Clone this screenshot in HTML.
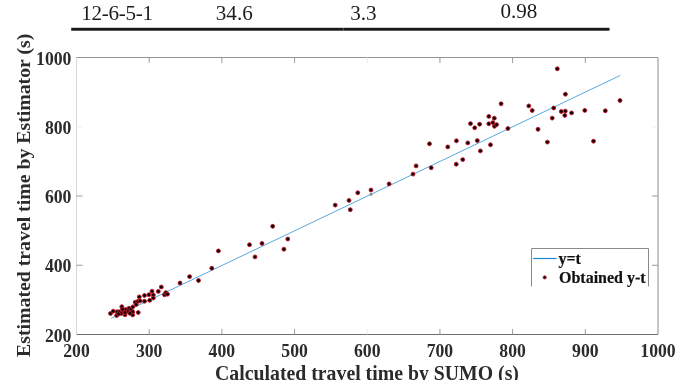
<!DOCTYPE html>
<html><head><meta charset="utf-8"><style>
html,body{margin:0;padding:0;background:#fff;width:685px;height:380px;overflow:hidden}
svg{display:block;will-change:transform}
</style></head><body>
<svg width="685" height="380" viewBox="0 0 685 380">
<rect width="685" height="380" fill="#fff"/>
<!-- table fragment -->
<g font-family="Liberation Serif" font-size="21.1" fill="#1e1b1c">
<text x="81.3" y="20.3" letter-spacing="-0.28">12-6-5-1</text>
<text x="215.8" y="20.3">34.6</text>
<text x="350.2" y="20.3">3.3</text>
<text x="500.4" y="18.1">0.98</text>
</g>
<rect x="71.2" y="27.8" width="538.3" height="2.9" fill="#1b1718"/>
<rect x="343.2" y="27.8" width="0.7" height="2.9" fill="#fff" opacity="0.35"/>
<!-- axes box -->
<g stroke="#8a8a8a" stroke-width="1" fill="none">
<line x1="76.5" y1="57.5" x2="658.0" y2="57.5" stroke="#959595"/>
<line x1="76.5" y1="334.5" x2="658.0" y2="334.5" stroke="#6e6e6e"/>
<line x1="76.5" y1="57.5" x2="76.5" y2="334.5" stroke="#d6d6d6"/>
<line x1="658.0" y1="57.5" x2="658.0" y2="334.5" stroke="#8a8a8a"/>
<line x1="149.19" y1="334.5" x2="149.19" y2="329.0" stroke="#9a9a9a"/>
<line x1="149.19" y1="57.5" x2="149.19" y2="63.0" stroke="#9a9a9a"/>
<line x1="221.88" y1="334.5" x2="221.88" y2="329.0" stroke="#9a9a9a"/>
<line x1="221.88" y1="57.5" x2="221.88" y2="63.0" stroke="#9a9a9a"/>
<line x1="294.56" y1="334.5" x2="294.56" y2="329.0" stroke="#9a9a9a"/>
<line x1="294.56" y1="57.5" x2="294.56" y2="63.0" stroke="#9a9a9a"/>
<line x1="367.25" y1="334.5" x2="367.25" y2="329.0" stroke="#ececec"/>
<line x1="367.25" y1="57.5" x2="367.25" y2="63.0" stroke="#ececec"/>
<line x1="439.94" y1="334.5" x2="439.94" y2="329.0" stroke="#9a9a9a"/>
<line x1="439.94" y1="57.5" x2="439.94" y2="63.0" stroke="#9a9a9a"/>
<line x1="512.62" y1="334.5" x2="512.62" y2="329.0" stroke="#9a9a9a"/>
<line x1="512.62" y1="57.5" x2="512.62" y2="63.0" stroke="#9a9a9a"/>
<line x1="585.31" y1="334.5" x2="585.31" y2="329.0" stroke="#9a9a9a"/>
<line x1="585.31" y1="57.5" x2="585.31" y2="63.0" stroke="#9a9a9a"/>
<line x1="76.5" y1="265.25" x2="82.5" y2="265.25" stroke="#9a9a9a"/>
<line x1="658.0" y1="265.25" x2="652.0" y2="265.25" stroke="#9a9a9a"/>
<line x1="76.5" y1="196.00" x2="82.5" y2="196.00" stroke="#9a9a9a"/>
<line x1="658.0" y1="196.00" x2="652.0" y2="196.00" stroke="#9a9a9a"/>
<line x1="76.5" y1="126.75" x2="82.5" y2="126.75" stroke="#ececec"/>
<line x1="658.0" y1="126.75" x2="652.0" y2="126.75" stroke="#ececec"/>
</g>
<!-- y=t line -->
<line x1="111.2" y1="318.3" x2="620.3" y2="75.4" stroke="#58a8e0" stroke-width="1"/>
<!-- markers -->
<g fill="#080000" stroke="#c41a2c" stroke-width="0.95">
<circle cx="110.5" cy="313.5" r="1.95"/>
<circle cx="113.2" cy="311.2" r="1.95"/>
<circle cx="116.6" cy="315.5" r="1.95"/>
<circle cx="117.1" cy="311.7" r="1.95"/>
<circle cx="119.3" cy="311.8" r="1.95"/>
<circle cx="121.8" cy="306.7" r="1.95"/>
<circle cx="123.2" cy="311.4" r="1.95"/>
<circle cx="125.0" cy="314.8" r="1.95"/>
<circle cx="125.6" cy="309.5" r="1.95"/>
<circle cx="127.7" cy="311.3" r="1.95"/>
<circle cx="129.0" cy="308.3" r="1.95"/>
<circle cx="131.0" cy="309.4" r="1.95"/>
<circle cx="132.7" cy="314.9" r="1.95"/>
<circle cx="132.7" cy="311.8" r="1.95"/>
<circle cx="132.8" cy="306.9" r="1.95"/>
<circle cx="135.2" cy="302.2" r="1.95"/>
<circle cx="136.2" cy="304.5" r="1.95"/>
<circle cx="138.2" cy="312.5" r="1.95"/>
<circle cx="137.8" cy="301.4" r="1.95"/>
<circle cx="139.3" cy="296.9" r="1.95"/>
<circle cx="140.1" cy="300.9" r="1.95"/>
<circle cx="121.2" cy="313.6" r="1.95"/>
<circle cx="125.0" cy="312.5" r="1.95"/>
<circle cx="129.9" cy="313.3" r="1.95"/>
<circle cx="118.5" cy="314.0" r="1.95"/>
<circle cx="122.5" cy="309.2" r="1.95"/>
<circle cx="144.5" cy="295.5" r="1.95"/>
<circle cx="144.5" cy="301.2" r="1.95"/>
<circle cx="148.9" cy="294.7" r="1.95"/>
<circle cx="149.7" cy="300.3" r="1.95"/>
<circle cx="152.0" cy="291.2" r="1.95"/>
<circle cx="153.3" cy="295.0" r="1.95"/>
<circle cx="153.3" cy="298.0" r="1.95"/>
<circle cx="158.3" cy="291.4" r="1.95"/>
<circle cx="161.3" cy="287.0" r="1.95"/>
<circle cx="164.5" cy="294.8" r="1.95"/>
<circle cx="165.8" cy="292.6" r="1.95"/>
<circle cx="167.5" cy="294.2" r="1.95"/>
<circle cx="180.0" cy="283.0" r="1.95"/>
<circle cx="189.6" cy="276.6" r="1.95"/>
<circle cx="198.5" cy="280.5" r="1.95"/>
<circle cx="211.8" cy="268.2" r="1.95"/>
<circle cx="218.4" cy="250.9" r="1.95"/>
<circle cx="249.5" cy="244.7" r="1.95"/>
<circle cx="255.0" cy="256.9" r="1.95"/>
<circle cx="262.0" cy="243.4" r="1.95"/>
<circle cx="272.7" cy="226.3" r="1.95"/>
<circle cx="283.9" cy="249.2" r="1.95"/>
<circle cx="287.8" cy="239.0" r="1.95"/>
<circle cx="335.2" cy="205.1" r="1.95"/>
<circle cx="349.0" cy="200.4" r="1.95"/>
<circle cx="350.3" cy="209.7" r="1.95"/>
<circle cx="357.8" cy="192.8" r="1.95"/>
<circle cx="371.0" cy="190.0" r="1.95"/>
<circle cx="389.1" cy="183.9" r="1.95"/>
<circle cx="413.0" cy="174.1" r="1.95"/>
<circle cx="416.1" cy="165.9" r="1.95"/>
<circle cx="429.5" cy="143.8" r="1.95"/>
<circle cx="431.2" cy="167.8" r="1.95"/>
<circle cx="447.8" cy="146.9" r="1.95"/>
<circle cx="456.2" cy="164.2" r="1.95"/>
<circle cx="456.4" cy="140.8" r="1.95"/>
<circle cx="462.7" cy="159.6" r="1.95"/>
<circle cx="467.8" cy="142.9" r="1.95"/>
<circle cx="470.5" cy="123.6" r="1.95"/>
<circle cx="474.7" cy="127.8" r="1.95"/>
<circle cx="477.3" cy="140.6" r="1.95"/>
<circle cx="479.6" cy="124.2" r="1.95"/>
<circle cx="480.4" cy="150.9" r="1.95"/>
<circle cx="488.8" cy="116.4" r="1.95"/>
<circle cx="488.8" cy="123.8" r="1.95"/>
<circle cx="490.5" cy="144.8" r="1.95"/>
<circle cx="492.8" cy="122.6" r="1.95"/>
<circle cx="494.3" cy="118.2" r="1.95"/>
<circle cx="494.5" cy="126.3" r="1.95"/>
<circle cx="496.6" cy="124.6" r="1.95"/>
<circle cx="501.1" cy="103.8" r="1.95"/>
<circle cx="507.9" cy="128.5" r="1.95"/>
<circle cx="528.8" cy="105.9" r="1.95"/>
<circle cx="532.2" cy="110.5" r="1.95"/>
<circle cx="538.0" cy="129.3" r="1.95"/>
<circle cx="547.4" cy="142.1" r="1.95"/>
<circle cx="552.2" cy="118.1" r="1.95"/>
<circle cx="553.7" cy="108.0" r="1.95"/>
<circle cx="557.3" cy="68.8" r="1.95"/>
<circle cx="561.3" cy="111.5" r="1.95"/>
<circle cx="565.4" cy="94.2" r="1.95"/>
<circle cx="565.3" cy="111.1" r="1.95"/>
<circle cx="564.8" cy="115.4" r="1.95"/>
<circle cx="571.6" cy="112.9" r="1.95"/>
<circle cx="584.8" cy="110.4" r="1.95"/>
<circle cx="605.3" cy="110.8" r="1.95"/>
<circle cx="620.0" cy="100.5" r="1.95"/>
<circle cx="593.5" cy="141.2" r="1.95"/>
</g>
<circle cx="371" cy="194.2" r="1.5" fill="#8e8e80"/>
<!-- tick labels -->
<g font-family="Liberation Serif" font-weight="bold" font-size="17.7" fill="#2b2b2b">
<text transform="translate(76.50,357.0) scale(1,1.07)" text-anchor="middle">200</text>
<text transform="translate(149.19,357.0) scale(1,1.07)" text-anchor="middle">300</text>
<text transform="translate(221.88,357.0) scale(1,1.07)" text-anchor="middle">400</text>
<text transform="translate(294.56,357.0) scale(1,1.07)" text-anchor="middle">500</text>
<text transform="translate(367.25,357.0) scale(1,1.07)" text-anchor="middle">600</text>
<text transform="translate(439.94,357.0) scale(1,1.07)" text-anchor="middle">700</text>
<text transform="translate(512.62,357.0) scale(1,1.07)" text-anchor="middle">800</text>
<text transform="translate(585.31,357.0) scale(1,1.07)" text-anchor="middle">900</text>
<text transform="translate(658.00,357.0) scale(1,1.07)" text-anchor="middle">1000</text>
<text transform="translate(71.4,341.50) scale(1,1.07)" text-anchor="end">200</text>
<text transform="translate(71.4,272.25) scale(1,1.07)" text-anchor="end">400</text>
<text transform="translate(71.4,203.00) scale(1,1.07)" text-anchor="end">600</text>
<text transform="translate(71.4,133.75) scale(1,1.07)" text-anchor="end">800</text>
<text transform="translate(71.4,64.50) scale(1,1.07)" text-anchor="end">1000</text>
</g>
<!-- axis labels -->
<g font-family="Liberation Serif" font-weight="bold" font-size="19.8" fill="#2b2b2b">
<text transform="translate(367,379.8) scale(1,1.02)" text-anchor="middle">Calculated travel time by SUMO (s)</text>
<text transform="translate(29.6,195.3) rotate(-90)" text-anchor="middle">Estimated travel time by Estimator (s)</text>
</g>
<!-- legend -->
<path d="M531.5,286.5 V248.5 H648.5 V286.5" fill="#fff" stroke="#8a8a8a" stroke-width="1"/>
<line x1="533.1" y1="258.5" x2="556.6" y2="258.5" stroke="#1f86d2" stroke-width="1.2"/>
<circle cx="544.7" cy="277.4" r="1.6" fill="#000" stroke="#cf1f2e" stroke-width="0.9"/>
<g font-family="Liberation Serif" font-weight="bold" font-size="16" fill="#111" stroke="#111" stroke-width="0.2">
<text x="558.4" y="263.7">y=t</text>
<text x="559.0" y="283.0">Obtained y-t</text>
</g>
</svg>
</body></html>
